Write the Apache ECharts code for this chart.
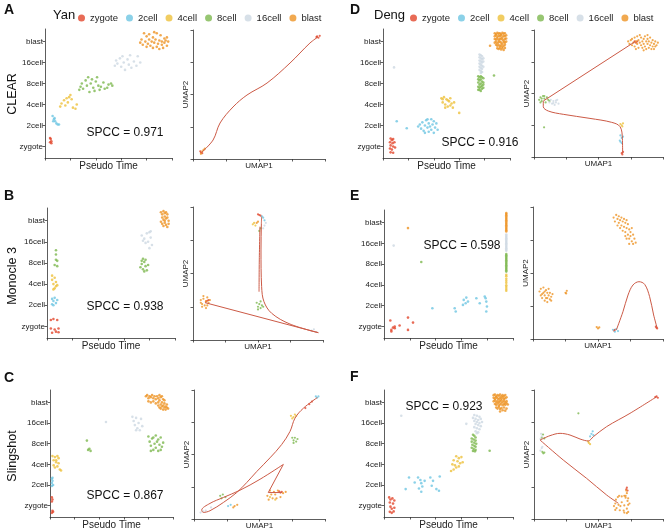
<!DOCTYPE html>
<html>
<head>
<meta charset="utf-8">
<script src="https://cdn.jsdelivr.net/npm/echarts@6/dist/echarts.min.js"></script>
<style>
html, body { margin: 0; padding: 0; background: #fff; }
#main { width: 666px; height: 531px; }
</style>
</head>
<body>
<div id="main"></div>
<script>
const stages = ['zygote', '2cell', '4cell', '8cell', '16cell', 'blast']
const stageColors = ['#E2462C', '#6EC6E2', '#EDC03B', '#7DB84F', '#CDD8E2', '#EE9324']
const stageTicks = [1, 2, 3, 4, 5, 6]
const panelLetters = ['A', 'B', 'C', 'D', 'E', 'F']
const methodNames = ['CLEAR', 'Monocle 3', 'Slingshot']
const datasetNames = ['Yan', 'Deng']
const spccLabels = ['SPCC = 0.971', 'SPCC = 0.938', 'SPCC = 0.867', 'SPCC = 0.916', 'SPCC = 0.598', 'SPCC = 0.923']

// pseudo time plots: [pseudo time (0-100), stage position (1 = zygote ... 6 = blast)]
const pseudoA = {
  zygote: [[4, 1.2], [4.5, 1.35], [5, 1.25], [4, 1.4], [5, 1.15]],
  '2cell': [[6, 2.45], [7, 2.3], [8, 2.2], [9, 2.1], [10, 2.05], [11, 2.05], [7.5, 2.35], [6.5, 2.2]],
  '4cell': [[12, 2.9], [13, 3.05], [15, 3.2], [16, 2.95], [18, 3.1], [19, 3.35], [20, 3.45], [21, 3.25], [22, 2.85], [24, 2.8], [25, 3.0], [17, 3.3]],
  '8cell': [[27, 3.7], [28, 3.85], [29, 4.0], [30, 3.75], [32, 4.15], [33, 3.9], [34, 4.3], [35, 3.6], [36, 4.0], [37, 4.2], [38, 3.8], [39, 3.65], [40, 4.1], [41, 4.3], [42, 3.9], [43, 3.7], [44, 3.85], [46, 4.05], [47, 3.75], [49, 3.8], [50, 3.95], [52, 4.0], [53, 3.9]],
  '16cell': [[55, 4.85], [56, 5.1], [57, 4.95], [59, 5.2], [60, 4.8], [61, 5.3], [62, 5.0], [63, 4.65], [65, 5.15], [66, 4.9], [67, 5.35], [68, 4.75], [70, 5.05], [72, 4.85], [73, 5.3], [75, 5.0]],
  blast: [[75, 5.95], [76, 6.1], [77, 5.85], [78, 6.4], [79, 6.0], [80, 6.25], [81, 5.9], [82, 6.1], [82, 6.35], [83, 5.8], [84, 6.0], [85, 5.7], [85, 6.2], [86, 5.95], [87, 6.1], [88, 5.75], [88, 6.4], [89, 5.9], [90, 6.05], [90, 5.65], [91, 6.3], [92, 5.85], [92, 6.0], [93, 5.7], [94, 6.15], [94, 5.95], [95, 6.05], [96, 5.8], [96, 6.2], [97, 6.0], [86, 6.45], [80, 5.75]]
}
const pseudoB = {
  zygote: [[3, 1.3], [5, 1.35], [8, 1.3], [3, 0.9], [6, 0.85], [9, 0.9], [4, 0.7], [7, 0.75], [9, 0.72]],
  '2cell': [[4, 2.3], [5, 2.2], [6, 2.35], [7, 2.1], [4, 2.05], [5, 2.0], [8, 2.25]],
  '4cell': [[4, 3.2], [5, 3.0], [6, 3.3], [7, 2.9], [5, 2.75], [6, 2.8], [7, 3.1], [8, 2.95], [4, 3.4]],
  '8cell': [[7, 4.6], [7, 4.4], [8, 4.1], [6, 3.9], [8, 3.85], [7, 4.15], [73, 3.8], [74, 3.95], [75, 3.7], [76, 4.05], [77, 3.85], [78, 3.65], [76, 3.6], [74, 4.1], [79, 3.9], [77, 4.15], [75, 4.2]],
  '16cell': [[74, 5.3], [76, 5.15], [78, 5.4], [79, 5.0], [80, 5.45], [81, 5.2], [82, 4.85], [77, 4.95], [80, 4.7], [75, 5.05], [81, 5.5]],
  blast: [[89, 6.4], [90, 6.3], [91, 6.45], [92, 6.35], [93, 6.4], [94, 6.3], [90, 6.15], [91, 6.05], [92, 6.2], [93, 6.1], [94, 6.15], [95, 6.0], [89, 5.95], [90, 5.85], [91, 5.75], [92, 5.9], [93, 5.8], [94, 5.7], [95, 5.85], [92, 6.0]]
}
const pseudoC = {
  zygote: [[1.5, 1.4], [2, 1.3], [1.5, 1.2], [2, 0.75], [1.5, 0.65], [2.5, 0.7]],
  '2cell': [[1.5, 2.3], [2, 2.2], [1.5, 2.1], [2.5, 2.0], [2, 2.35], [1.5, 1.95]],
  '4cell': [[2, 3.4], [4, 3.35], [6, 3.4], [3, 3.2], [5, 3.1], [7, 3.05], [3, 2.95], [4, 2.85], [6, 2.9], [8, 2.75], [5, 3.2], [7, 3.3], [9, 2.7]],
  '8cell': [[30, 4.15], [31, 3.7], [33, 3.65], [32, 3.75], [80, 4.35], [81, 4.1], [82, 3.9], [83, 4.25], [84, 3.7], [85, 4.0], [86, 4.4], [86, 3.8], [87, 4.1], [88, 3.65], [88, 4.2], [89, 3.95], [90, 3.7], [90, 4.3], [91, 3.85], [92, 4.05], [84, 4.3], [82, 3.65]],
  '16cell': [[45.5, 5.05], [67, 5.3], [68, 5.1], [69, 4.9], [70, 5.25], [71, 4.75], [72, 5.0], [73, 4.65], [74, 5.2], [75, 4.85], [70, 4.65]],
  blast: [[78, 6.3], [79, 6.35], [80, 6.2], [81, 6.3], [82, 6.25], [83, 6.35], [84, 6.2], [85, 6.3], [86, 6.15], [87, 6.3], [88, 6.2], [89, 6.35], [90, 6.25], [91, 6.3], [92, 6.15], [80, 6.05], [82, 6.0], [84, 6.05], [86, 5.95], [88, 6.0], [88, 5.85], [89, 5.75], [90, 5.9], [90, 5.7], [91, 5.8], [91, 6.0], [92, 5.85], [92, 5.65], [93, 5.75], [93, 5.95], [94, 5.8], [94, 5.65], [95, 5.75], [95, 5.9], [96, 5.7], [89, 6.1], [93, 6.1]]
}
const pseudoD = {
  zygote: [[6, 1.38], [7, 1.3], [8, 1.35], [5.5, 1.2], [7.5, 1.15], [9, 1.2], [6, 1.05], [8, 1.0], [5.5, 0.9], [7, 0.85], [6, 0.72], [8, 0.7], [9.5, 0.95]],
  '2cell': [[10.8, 2.2], [18.7, 1.87], [27.7, 1.95], [29, 2.05], [30, 1.85], [31, 2.15], [32, 1.75], [33, 2.0], [34, 2.25], [35, 1.9], [36, 2.1], [36, 1.7], [37, 1.95], [38, 2.3], [38, 1.8], [39, 2.05], [40, 1.65], [40, 2.2], [41, 1.9], [42, 2.1], [43, 1.8], [33, 1.65], [35, 2.3]],
  '4cell': [[46, 3.3], [47, 3.1], [48, 3.35], [49, 3.0], [50, 3.25], [51, 2.9], [52, 3.15], [53, 3.3], [54, 3.05], [55, 2.85], [49, 2.85], [51, 3.2], [53, 2.95], [56, 3.1], [47, 3.25], [60, 2.6]],
  '8cell': [[75, 4.35], [76, 4.3], [77, 4.35], [78, 4.3], [79, 4.25], [75, 4.2], [76, 4.15], [77, 4.2], [78, 4.1], [79, 4.05], [75, 4.05], [76, 3.95], [77, 4.0], [78, 3.9], [75, 3.85], [76, 3.8], [77, 3.85], [78, 3.75], [79, 3.8], [76, 3.7], [77, 3.65], [75, 3.7], [79, 3.95], [87.4, 4.38]],
  '16cell': [[8.7, 4.77], [76, 5.38], [77, 5.35], [78, 5.3], [76, 5.25], [77, 5.2], [78, 5.15], [79, 5.2], [76, 5.1], [77, 5.05], [78, 5.0], [79, 5.05], [76, 4.95], [77, 4.9], [78, 4.85], [76, 4.8], [77, 4.75], [78, 4.7], [79, 4.8], [76, 4.65], [77, 4.6], [78, 4.55], [77, 4.5]],
  blast: [[88, 6.4], [89, 6.35], [90, 6.42], [91, 6.38], [92, 6.4], [93, 6.35], [94, 6.42], [95, 6.38], [96, 6.4], [88, 6.25], [89, 6.3], [90, 6.22], [91, 6.28], [92, 6.25], [93, 6.3], [94, 6.2], [95, 6.28], [96, 6.25], [97, 6.3], [88, 6.12], [89, 6.1], [90, 6.15], [91, 6.08], [92, 6.12], [93, 6.15], [94, 6.1], [95, 6.05], [96, 6.12], [97, 6.15], [88, 5.95], [89, 6.0], [90, 5.92], [91, 5.98], [92, 6.0], [93, 5.95], [94, 5.9], [95, 5.98], [96, 5.95], [97, 6.0], [89, 5.85], [90, 5.8], [91, 5.85], [92, 5.78], [93, 5.82], [94, 5.75], [95, 5.8], [96, 5.85], [90, 5.68], [91, 5.65], [92, 5.7], [93, 5.62], [94, 5.68], [95, 5.6], [96, 5.7], [84.3, 5.8]]
}
const pseudoE = {
  zygote: [[4.9, 1.29], [8.3, 0.92], [5.7, 0.84], [7.0, 0.95], [12.1, 1.05], [18.6, 1.43], [22.5, 1.19], [18.6, 0.84], [5.7, 0.76], [8.3, 1.0]],
  '2cell': [[37.5, 1.88], [54.8, 1.88], [55.6, 1.72], [61.2, 2.04], [61.8, 2.28], [63.3, 2.12], [65.1, 2.2], [71.6, 2.36], [74.2, 2.12], [78.8, 2.36], [79.3, 2.2], [79.8, 1.96], [79.3, 1.72], [63.8, 2.39], [78.1, 2.44]],
  '4cell': [[94.8, 3.49], [94.8, 3.42], [94.8, 3.3], [94.8, 3.2], [94.8, 3.1], [94.8, 2.98], [94.8, 2.9], [94.8, 2.8], [94.8, 2.72]],
  '8cell': [[28.9, 4.1], [94.8, 3.64], [94.8, 3.7], [94.8, 3.76], [94.8, 3.82], [94.8, 3.88], [94.8, 3.94], [94.8, 4.0], [94.8, 4.06], [94.8, 4.12], [94.8, 4.18], [94.8, 4.24], [94.8, 4.3], [94.8, 4.36], [94.8, 4.42], [94.8, 4.48]],
  '16cell': [[7.5, 4.89], [94.8, 4.64], [94.8, 4.7], [94.8, 4.76], [94.8, 4.82], [94.8, 4.88], [94.8, 4.94], [94.8, 5.0], [94.8, 5.06], [94.8, 5.12], [94.8, 5.18], [94.8, 5.24], [94.8, 5.3], [94.8, 5.36], [94.8, 5.42]],
  blast: [[18.6, 5.73], [94.8, 5.57], [94.8, 5.63], [94.8, 5.69], [94.8, 5.75], [94.8, 5.81], [94.8, 5.87], [94.8, 5.93], [94.8, 5.99], [94.8, 6.05], [94.8, 6.11], [94.8, 6.17], [94.8, 6.23], [94.8, 6.29], [94.8, 6.35], [94.8, 6.41], [94.8, 6.45]]
}
const pseudoF = {
  zygote: [[4, 1.4], [5, 1.3], [6.5, 1.35], [8, 1.25], [4.5, 1.15], [7, 1.1], [5, 0.95], [6, 0.85], [8, 0.9], [4.5, 0.7], [6, 0.65], [7.5, 0.72]],
  '2cell': [[16.8, 1.8], [19.4, 2.36], [26.4, 2.36], [28.2, 2.24], [28.9, 2.09], [29.7, 1.93], [28.9, 1.67], [27.1, 1.83], [35.9, 2.36], [37.0, 1.96], [38.0, 2.2], [43.2, 2.41], [42.6, 1.72], [40.6, 1.8], [31.5, 2.2], [23.8, 2.12]],
  '4cell': [[56, 3.39], [58, 3.3], [60, 3.35], [54, 3.2], [57, 3.15], [59, 3.05], [53, 3.0], [55, 2.95], [61, 3.1], [56, 2.85], [58, 2.9], [54, 2.75], [52, 2.68]],
  '8cell': [[69, 4.43], [70, 4.38], [71, 4.3], [68, 4.25], [69.5, 4.2], [71, 4.15], [68, 4.1], [70, 4.05], [71.5, 4.0], [68.5, 3.95], [70, 3.9], [71, 3.85], [68, 3.8], [69.5, 3.75], [71, 3.7], [69, 3.65], [70.5, 3.63], [81.9, 3.66]],
  '16cell': [[13.4, 5.35], [63.8, 4.96], [70, 5.39], [72, 5.35], [74, 5.3], [69, 5.25], [71, 5.2], [73, 5.15], [75, 5.2], [70, 5.1], [72, 5.05], [74, 5.0], [76, 5.05], [71, 4.95], [73, 4.9], [75, 4.85], [70, 4.8], [72, 4.75], [74, 4.7], [71, 4.6], [73, 4.55], [72, 4.51]],
  blast: [[85, 6.35], [86, 6.38], [87, 6.3], [88, 6.36], [89, 6.32], [90, 6.38], [91, 6.3], [92, 6.35], [93, 6.3], [94, 6.36], [85, 6.22], [86, 6.18], [87, 6.25], [88, 6.2], [89, 6.15], [90, 6.22], [91, 6.18], [92, 6.24], [93, 6.16], [94, 6.2], [95, 6.25], [85, 6.05], [86, 6.1], [87, 6.02], [88, 6.08], [89, 6.0], [90, 6.06], [91, 6.1], [92, 6.02], [93, 6.08], [94, 6.0], [95, 6.06], [86, 5.92], [87, 5.88], [88, 5.95], [89, 5.85], [90, 5.9], [91, 5.95], [92, 5.86], [93, 5.92], [94, 5.88], [95, 5.95], [96, 5.9], [87, 5.75], [88, 5.7], [89, 5.78], [90, 5.68], [91, 5.72], [92, 5.62], [93, 5.75], [94, 5.6], [95, 5.7], [90, 5.56]]
}

// UMAP plots: [UMAP1, UMAP2], both 0-100
const umapA = {
  zygote: [[6, 5], [7, 4.5], [5.5, 6], [94, 95], [95, 94], [96, 95.5], [93.5, 94.5]],
  blast: [[7, 6], [8, 7], [6, 4], [9, 8]]
}
const umapB = {
  zygote: [[10, 29], [11, 29.5], [12, 30], [51, 94], [52, 93.5], [50, 94.5]],
  '2cell': [[54, 92], [55, 90], [53, 93]],
  '4cell': [[47, 88], [48, 86], [46, 87]],
  '8cell': [[52, 84], [51, 82], [49, 28], [50, 25], [51, 27], [52, 24], [53, 26], [50, 23], [52, 29], [54, 25]],
  '16cell': [[55, 86], [56, 88], [54, 84], [93, 8], [95, 6], [91, 7]],
  blast: [[6, 30], [7, 27], [8, 31], [9, 26], [10, 29], [11, 32], [12, 28], [7, 25], [10, 24], [8, 33], [11, 26], [13, 30], [6, 28], [49, 88], [50, 89]]
}
const umapC = {
  zygote: [[90, 91], [88, 89], [85, 86], [66, 20.5], [67, 21], [65, 21.5]],
  '2cell': [[94, 94], [95, 95], [93, 95], [26, 10], [28, 11]],
  '4cell': [[74, 80], [76, 79], [77, 81], [75, 78], [78, 80], [58, 17], [62, 15]],
  '8cell': [[75, 63], [76, 61], [78, 60], [77, 63], [79, 62], [76, 59], [20, 18], [22, 19], [24, 17], [21, 16]],
  '16cell': [[5, 5], [7, 6], [9, 6.5], [13, 9]],
  blast: [[56, 18], [58, 22], [60, 16], [62, 19], [64, 22], [66, 17], [68, 20], [70, 21], [57, 15], [61, 21], [63, 16], [59, 19], [31, 10], [30, 9], [33, 11]]
}
const umapD = {
  zygote: [[78, 91], [79, 90], [80, 91], [68, 3], [69, 4], [68.5, 2]],
  '2cell': [[67, 17], [68, 15], [66.5, 13], [68, 11], [69, 16], [67, 12]],
  '4cell': [[67, 26], [68, 25], [69, 26.5], [68.5, 24]],
  '8cell': [[4, 45], [5, 47], [6, 44], [7, 48], [8, 46], [9, 43], [10, 47], [11, 45], [12, 44], [6, 46], [8, 48], [5, 43], [7.8, 23.4]],
  '16cell': [[12, 43], [13, 45], [14, 42], [15, 44], [16, 41], [17, 43], [18, 45], [19, 42], [15, 42.5], [17, 44.5]],
  blast: [[73, 91], [74, 89], [75, 92], [76, 88], [76, 93], [77, 90], [78, 87], [78, 94], [79, 91], [80, 89], [80, 95], [81, 86], [81, 92], [82, 90], [83, 88], [83, 94], [84, 91], [84, 86], [85, 93], [85, 89], [86, 95], [86, 87], [87, 91], [87, 85], [88, 93], [88, 89], [89, 86], [89, 91], [90, 94], [90, 88], [91, 85], [91, 90], [92, 92], [92, 87], [93, 89], [93, 85], [94, 91], [94, 87], [95, 88], [96, 90], [85, 84], [82, 96], [79, 85], [88, 96]]
}
const umapE = {
  zygote: [[62.4, 6.3], [63, 7], [95, 8.6], [94.5, 9.3], [95.5, 8]],
  '2cell': [[61.5, 7], [63, 5.5], [65.4, 6], [64, 7.5]],
  blast: [[62, 92], [64, 94], [65, 91], [63, 89], [66, 93], [66, 88], [67, 90], [68, 92], [65, 86], [68, 86], [69, 89], [70, 91], [67, 84], [70, 85], [71, 88], [72, 90], [69, 82], [71, 81], [72, 84], [73, 87], [74, 83], [71, 78], [73, 79], [75, 81], [76, 84], [74, 76], [75, 78], [77, 79], [76, 74], [78, 76], [79, 73], [77, 72], [72, 76], [74, 72],
    [5, 36], [6, 33], [6, 38], [7, 31], [8, 35], [8, 39], [9, 29], [9, 33], [10, 37], [10, 31], [11, 35], [11, 28], [12, 33], [12, 38], [13, 30], [13, 35], [14, 32], [15, 34], [7, 34], [9, 36], [11, 31], [14, 29],
    [25, 35], [26, 36.5], [25.5, 34.5], [49, 9], [50, 8], [51, 8.8]]
}
const umapF = {
  zygote: [[72, 24.3], [71.5, 23], [72.5, 22], [95, 95], [94, 94.5], [96, 94]],
  '2cell': [[43.5, 64], [44.5, 66], [45.5, 68], [46, 65]],
  '4cell': [[42.5, 59], [43.5, 58], [42, 60]],
  '8cell': [[6, 63], [7, 65.5], [8, 62.5], [7.2, 50.9], [6.5, 52], [8, 51.5], [34.4, 81.9]],
  '16cell': [[5, 62], [6, 64], [5.5, 66], [6, 55], [5, 53], [6.5, 56]],
  blast: [[63, 12], [63.5, 15], [65, 17], [68, 17.5], [71, 16.5], [72.5, 14], [73, 11], [72, 8], [69.5, 6.5], [66.5, 6.8], [64, 8.5], [65.5, 11], [68, 13], [70, 10.5], [67, 10], [62, 10], [63, 7], [74, 12], [73, 16], [66, 18], [70, 18], [71, 18], [72, 20], [71.5, 22], [70, 5], [72, 4.5], [73, 5.5]]
}

// principal curves drawn on the UMAP plots
const trajA = [[[6.8, 5.4], [15.2, 14.7], [20.5, 27.9], [30.3, 40.3], [40.9, 49.6], [56.1, 58.9], [73.5, 74.4], [88.6, 89.9], [94.7, 94.6]]]
const trajB = [
  [[9.2, 28.1], [96.4, 5.5]],
  [[96.4, 5.5], [74.6, 12.0], [60.5, 20.1], [54.6, 28.8], [52.8, 40.1], [52.3, 67.7], [52.6, 87.7], [52.8, 92.7]],
  [[50.8, 36.3], [51.0, 60.2], [51.5, 85.2]]
]
const trajC = [
  [[94.1, 94.1], [83.5, 85.9], [77.1, 78.2], [73.3, 67.9], [66.9, 57.7], [58.0, 47.4], [47.8, 36.7], [40.2, 28.2], [32.6, 20.5], [22.4, 12.8], [12.2, 6.4], [7.1, 5.1], [5.9, 6.9], [12.2, 12.1], [22.4, 16.7], [35.1, 22.3], [50.4, 30.8], [68.2, 42.3]],
  [[68.2, 42.3], [56.7, 20.5]],
  [[56.7, 20.5], [66.9, 20.5]]
]
const trajD = [
  [[68.7, 2.9], [68.5, 14.7], [66.7, 23.9], [60.2, 27.3], [43.4, 30.4], [22.7, 33.6], [11.1, 36.2], [7.2, 39.6], [7.2, 44.1]],
  [[7.2, 44.1], [78.3, 90.8]]
]
const trajE = [[[64.1, 6.8], [69.2, 20.7], [73.1, 33.3], [76.9, 40.9], [81.5, 43.4], [85.9, 41.4], [89.7, 32.1], [92.8, 18.2], [95.4, 8.6]]]
const trajF = [
  [[4.7, 61.2], [12.4, 64.6], [20.2, 66.4], [27.9, 65.1], [35.7, 62.0], [42.1, 60.5], [46.0, 63.8], [56.3, 71.6], [74.4, 81.9], [95.1, 94.8]],
  [[4.7, 61.2], [22.7, 45.7], [40.8, 31.5], [56.3, 18.6], [65.4, 12.2]]
]

const panels = [
  { pseudo: pseudoA, umap: umapA, traj: trajA },
  { pseudo: pseudoB, umap: umapB, traj: trajB },
  { pseudo: pseudoC, umap: umapC, traj: trajC },
  { pseudo: pseudoD, umap: umapD, traj: trajD },
  { pseudo: pseudoE, umap: umapE, traj: trajE },
  { pseudo: pseudoF, umap: umapF, traj: trajF }
]

// layout: [pseudo grid, umap grid] per panel
const layout = [
  [{ left: 45, top: 29, width: 127, height: 129 }, { left: 193, top: 30, width: 132, height: 129 }],
  [{ left: 47, top: 208, width: 128, height: 130 }, { left: 193, top: 207, width: 130, height: 133 }],
  [{ left: 50, top: 390, width: 123, height: 128 }, { left: 194, top: 390, width: 131, height: 130 }],
  [{ left: 383, top: 29, width: 127, height: 129 }, { left: 534, top: 30, width: 129, height: 127 }],
  [{ left: 384, top: 210, width: 129, height: 128 }, { left: 533, top: 207, width: 130, height: 132 }],
  [{ left: 384, top: 390, width: 129, height: 128 }, { left: 534, top: 390, width: 129, height: 129 }]
]
const spccPos = [[125, 133], [125, 307], [125, 496], [480, 143], [462, 246], [444, 407]]
const letterPos = [[4, 3], [4, 189], [4, 371], [350, 3], [350, 189], [350, 370]]
const methodPos = [[13, 94], [13, 276], [13, 456]]

const font = 'Liberation Sans, Arial, Helvetica, sans-serif'
const axisColor = '#333'
const lineColor = '#CC5A46'

const grid = []
const xAxis = []
const yAxis = []
const series = []

function baseAxis (gi, name, gap) {
  return {
    type: 'value',
    gridIndex: gi,
    min: 0,
    max: 100,
    interval: 25,
    name: name,
    nameLocation: 'middle',
    nameGap: gap,
    nameTextStyle: { fontSize: 8, color: '#222', fontFamily: font },
    axisLine: { show: true, lineStyle: { color: axisColor, width: 0.8 } },
    axisTick: { show: true, length: 2.5, lineStyle: { color: axisColor, width: 0.8 } },
    axisLabel: { show: false },
    splitLine: { show: false }
  }
}

panels.forEach((p, i) => {
  const gp = i * 2
  const gu = i * 2 + 1
  grid.push(Object.assign({ containLabel: false }, layout[i][0]))
  grid.push(Object.assign({ containLabel: false }, layout[i][1]))

  // pseudo time axes
  const px = baseAxis(gp, 'Pseudo Time', 3)
  px.interval = 20
  px.nameTextStyle = { fontSize: 10, color: '#222', fontFamily: font }
  xAxis.push(px)
  yAxis.push({
    type: 'value',
    gridIndex: gp,
    min: 0.45,
    max: 6.6,
    axisLine: { show: true, lineStyle: { color: axisColor, width: 0.8 } },
    axisTick: { show: true, length: 2.5, customValues: stageTicks, lineStyle: { color: axisColor, width: 0.8 } },
    axisLabel: {
      show: true,
      customValues: stageTicks,
      formatter: v => stages[Math.round(v) - 1],
      fontSize: 8,
      color: '#222',
      margin: 2,
      fontFamily: font
    },
    splitLine: { show: false }
  })

  // umap axes
  xAxis.push(baseAxis(gu, 'UMAP1', 3))
  yAxis.push(baseAxis(gu, 'UMAP2', 3))

  stages.forEach((s, k) => {
    if (p.pseudo[s]) {
      series.push({
        type: 'scatter', name: s, xAxisIndex: gp, yAxisIndex: gp,
        data: p.pseudo[s], symbolSize: 2.6,
        itemStyle: { color: stageColors[k] }, silent: true, z: 2
      })
    }
    if (p.umap[s]) {
      series.push({
        type: 'scatter', name: s, xAxisIndex: gu, yAxisIndex: gu,
        data: p.umap[s], symbolSize: 2.2,
        itemStyle: { color: stageColors[k] }, silent: true, z: 2
      })
    }
  })
  p.traj.forEach(path => {
    series.push({
      type: 'line', xAxisIndex: gu, yAxisIndex: gu,
      data: path, showSymbol: false, smooth: path.length > 2 ? 0.35 : false,
      lineStyle: { color: lineColor, width: 1 }, silent: true, z: 3
    })
  })
})

const graphic = []
panelLetters.forEach((l, i) => {
  graphic.push({ type: 'text', x: letterPos[i][0], y: letterPos[i][1], style: { text: l, fontSize: 14, fontWeight: 'bold', fill: '#111', fontFamily: font } })
  graphic.push({ type: 'text', x: spccPos[i][0], y: spccPos[i][1], style: { text: spccLabels[i], fontSize: 12, fill: '#111', fontFamily: font, textAlign: 'center', textVerticalAlign: 'middle' } })
})
methodNames.forEach((m, i) => {
  graphic.push({ type: 'text', x: methodPos[i][0], y: methodPos[i][1], rotation: Math.PI / 2, style: { text: m, fontSize: 12.5, fill: '#111', fontFamily: font, textAlign: 'center', textVerticalAlign: 'middle' } })
})
graphic.push({ type: 'text', x: 53, y: 9, style: { text: datasetNames[0], fontSize: 13, fill: '#111', fontFamily: font } })
graphic.push({ type: 'text', x: 374, y: 9, style: { text: datasetNames[1], fontSize: 13, fill: '#111', fontFamily: font } })

const legendBase = {
  data: stages,
  icon: 'circle',
  orient: 'horizontal',
  itemWidth: 7,
  itemHeight: 7,
  itemGap: 8,
  padding: 0,
  width: 270,
  selectedMode: false,
  textStyle: { fontSize: 9.5, color: '#222', fontFamily: font },
  top: 13
}

const chart = echarts.init(document.getElementById('main'), null, { renderer: 'canvas' })
chart.setOption({
  animation: false,
  backgroundColor: '#fff',
  textStyle: { fontFamily: font },
  legend: [
    Object.assign({}, legendBase, { left: 78 }),
    Object.assign({}, legendBase, { left: 410 })
  ],
  grid: grid,
  xAxis: xAxis,
  yAxis: yAxis,
  series: series,
  graphic: graphic
})
</script>
</body>
</html>
